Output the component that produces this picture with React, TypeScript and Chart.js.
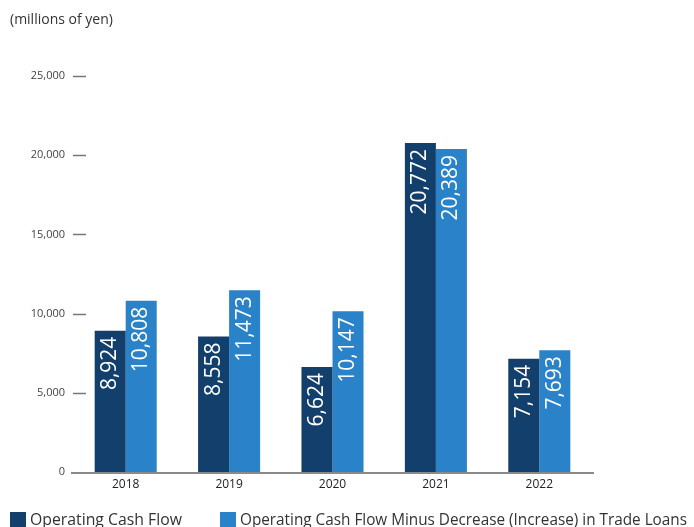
import React, { useEffect, useRef } from "react";
import { Chart, registerables } from "chart.js";

Chart.register(...registerables);

const years = ["2018", "2019", "2020", "2021", "2022"];
const operatingCashFlow = [8924, 8558, 6624, 20772, 7154];
const adjustedCashFlow = [10808, 11473, 10147, 20389, 7693];
const seriesNames = [
  "Operating Cash Flow",
  "Operating Cash Flow Minus Decrease (Increase) in Trade Loans",
];
const yTicks = [0, 5000, 10000, 15000, 20000, 25000];
const unitLabel = "(millions of yen)";

const DARK = "#123f6c";
const LIGHT = "#2a83c9";
const FONT = "'Open Sans', 'Noto Sans', sans-serif";

const fmt = (v: number) => v.toLocaleString("en-US");

const decorPlugin = {
  id: "decor",
  afterDatasetsDraw(chart: any) {
    const ctx = chart.ctx;
    const area = chart.chartArea;
    const y = chart.scales.y;
    // value labels
    chart.data.datasets.forEach((ds: any, di: number) => {
      const meta = chart.getDatasetMeta(di);
      meta.data.forEach((bar: any, i: number) => {
        const v = ds.data[i];
        ctx.save();
        ctx.translate(bar.x, bar.y + 6);
        ctx.rotate(-Math.PI / 2);
        ctx.fillStyle = "#ffffff";
        ctx.font = `21px ${FONT}`;
        ctx.textAlign = "right";
        ctx.textBaseline = "middle";
        ctx.fillText(fmt(v), 0, 0);
        ctx.restore();
      });
    });
    // baseline
    const y0 = y.getPixelForValue(0) + 1;
    ctx.save();
    ctx.strokeStyle = "#8a8a8a";
    ctx.lineWidth = 2;
    ctx.beginPath();
    ctx.moveTo(area.left - 3, y0);
    ctx.lineTo(area.right + 3, y0);
    ctx.stroke();
    // y tick dashes
    ctx.strokeStyle = "#777777";
    ctx.lineWidth = 1.5;
    yTicks.forEach((t) => {
      if (t === 0) return;
      const py = Math.round(y.getPixelForValue(t)) + 0.5;
      ctx.beginPath();
      ctx.moveTo(73, py);
      ctx.lineTo(86, py);
      ctx.stroke();
    });
    ctx.restore();
  },
  afterDraw(chart: any) {
    const ctx = chart.ctx;
    ctx.save();
    // unit label
    ctx.fillStyle = "#333333";
    ctx.font = `14px ${FONT}`;
    ctx.textAlign = "left";
    ctx.textBaseline = "middle";
    ctx.fillText(unitLabel, 10, 20);
    // legend
    const xs = [10, 220];
    const maxW = [152, 447];
    chart.data.datasets.forEach((ds: any, i: number) => {
      ctx.fillStyle = ds.backgroundColor;
      ctx.fillRect(xs[i], 512, 16, 16);
      ctx.fillStyle = "#333333";
      ctx.font = `16px ${FONT}`;
      ctx.textBaseline = "middle";
      ctx.fillText(ds.label, xs[i] + 20, 520, maxW[i]);
    });
    ctx.restore();
  },
};

export default function App() {
  const ref = useRef<HTMLCanvasElement>(null);
  useEffect(() => {
    if (!ref.current) return;
    const chart = new Chart(ref.current, {
      type: "bar",
      data: {
        labels: years,
        datasets: [
          {
            label: seriesNames[0],
            data: operatingCashFlow,
            backgroundColor: DARK,
            categoryPercentage: 0.6,
            barPercentage: 1.0,
          },
          {
            label: seriesNames[1],
            data: adjustedCashFlow,
            backgroundColor: LIGHT,
            categoryPercentage: 0.6,
            barPercentage: 1.0,
          },
        ],
      },
      options: {
        animation: false,
        responsive: false,
        maintainAspectRatio: false,
        layout: { padding: { top: 76, right: 103, left: 0, bottom: 0 } },
        plugins: {
          legend: { display: false },
          title: { display: false },
          tooltip: { enabled: false },
        },
        scales: {
          x: {
            grid: { display: false, drawTicks: false },
            border: { display: false },
            ticks: {
              color: "#222222",
              font: { family: FONT, size: 12 },
              padding: 5,
            },
            afterFit: (s: any) => {
              s.height = 55;
            },
          },
          y: {
            min: 0,
            max: 25000,
            afterBuildTicks: (s: any) => {
              s.ticks = yTicks.map((v) => ({ value: v }));
            },
            grid: { display: false, drawTicks: false },
            border: { display: false },
            ticks: {
              color: "#444444",
              font: { family: FONT, size: 11 },
              padding: 9,
              callback: (v: any) => fmt(Number(v)),
            },
            afterFit: (s: any) => {
              s.width = 74;
            },
          },
        },
      },
      plugins: [decorPlugin],
    });
    return () => chart.destroy();
  }, []);
  return (
    <div style={{ position: "fixed", left: 0, top: 0, width: 694, height: 527, background: "#fff" }}>
      <canvas ref={ref} width={694} height={527} style={{ width: 694, height: 527 }} />
    </div>
  );
}
